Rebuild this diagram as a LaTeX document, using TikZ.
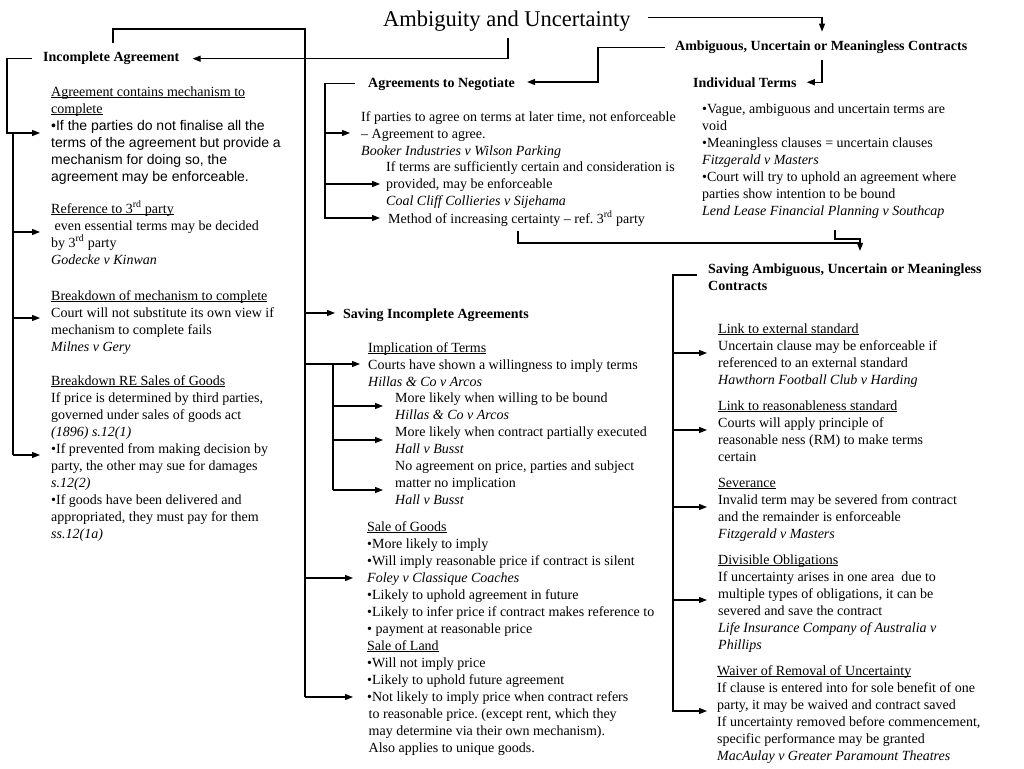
\documentclass[tikz,border=0pt]{standalone}
\usepackage{fontspec}
\setmainfont{Liberation Serif}
\newfontfamily\sanf{Liberation Sans}
\usetikzlibrary{arrows.meta}
\frenchspacing
\newcommand\mytab[1]{\begin{tabular}[t]{@{}l@{}}#1\end{tabular}}
\newcommand\ul[1]{\underline{\smash{#1}}}
\begin{document}
\begin{tikzpicture}[x=1pt,y=-1pt,
 txt/.style={anchor=base west,inner sep=0pt,font=\fontsize{14}{17}\selectfont},
 hd/.style={anchor=base west,inner sep=0pt,font=\fontsize{14}{17}\selectfont\bfseries},
 ln/.style={line width=1.1pt},
 thk/.style={line width=1.8pt},
 arr/.style={line width=1.1pt,-{Triangle[length=8pt,width=6pt]}}]
\fill[white] (0,0) rectangle (1024,768);
\useasboundingbox (0,0) rectangle (1024,768);

% headings
\node[anchor=base west,inner sep=0pt,font=\fontsize{22.5}{27}\selectfont] (t) at (383,27) {Ambiguity and Uncertainty};
\node[hd] (amb) at (675,51) {Ambiguous, Uncertain or Meaningless Contracts};
\node[hd] (ia) at (43,62) {Incomplete Agreement};
\node[hd] (atn) at (368,87) {Agreements to Negotiate};
\node[hd] (it) at (693,87) {Individual Terms};
\node[hd] (sia) at (343,318) {Saving Incomplete Agreements};
\node[hd] (sam) at (708,273) {\mytab{Saving Ambiguous, Uncertain or Meaningless\\Contracts}};

% left column
\node[txt] (L1) at (51,96) {\mytab{\ul{Agreement contains mechanism to}\\
\ul{complete}\\
{\sanf •If the parties do not finalise all the}\\
{\sanf terms of the agreement but provide a}\\
{\sanf mechanism for doing so, the}\\
{\sanf agreement may be enforceable.}}};
\node[txt] (L2) at (51,213) {\mytab{\ul{Reference to 3\textsuperscript{rd} party}\\
\hspace{3.5pt}even essential terms may be decided\\
by 3\textsuperscript{rd} party\\
\textit{Godecke v Kinwan}}};
\node[txt] (L3) at (51,300) {\mytab{\ul{Breakdown of mechanism to complete}\\
Court will not substitute its own view if\\
mechanism to complete fails\\
\textit{Milnes v Gery}}};
\node[txt] (L4) at (51,385) {\mytab{\ul{Breakdown RE Sales of Goods}\\
If price is determined by third parties,\\
governed under sales of goods act\\
\textit{(1896) s.12(1)}\\
•If prevented from making decision by\\
party, the other may sue for damages\\
\textit{s.12(2)}\\
•If goods have been delivered and\\
appropriated, they must pay for them\\
\textit{ss.12(1a)}}};

% agreements to negotiate
\node[txt] (M1) at (361,121) {\mytab{If parties to agree on terms at later time, not enforceable\\
– Agreement to agree.\\
\textit{Booker Industries v Wilson Parking}}};
\node[txt] (M2) at (386,171) {\mytab{If terms are sufficiently certain and consideration is\\
provided, may be enforceable\\
\textit{Coal Cliff Collieries v Sijehama}}};
\node[txt] (M3) at (388,223) {Method of increasing certainty – ref.\ 3\textsuperscript{rd} party};

% individual terms
\node[txt] (IT1) at (702,113) {\mytab{•Vague, ambiguous and uncertain terms are\\
void\\
•Meaningless clauses = uncertain clauses\\
\textit{Fitzgerald v Masters}\\
•Court will try to uphold an agreement where\\
parties show intention to be bound\\
\textit{Lend Lease Financial Planning v Southcap}}};

% saving incomplete agreements
\node[txt] (S1) at (368,352) {\mytab{\ul{Implication of Terms}\\
Courts have shown a willingness to imply terms\\
\textit{Hillas \& Co v Arcos}}};
\node[txt] (S2) at (395,402) {\mytab{More likely when willing to be bound\\
\textit{Hillas \& Co v Arcos}\\
More likely when contract partially executed\\
\textit{Hall v Busst}\\
No agreement on price, parties and subject\\
matter no implication\\
\textit{Hall v Busst}}};
\node[txt] (S3) at (367,531) {\mytab{\ul{Sale of Goods}\\
•More likely to imply\\
•Will imply reasonable price if contract is silent\\
\textit{Foley v Classique Coaches}\\
•Likely to uphold agreement in future\\
•Likely to infer price if contract makes reference to\\
• payment at reasonable price\\
\ul{Sale of Land}\\
•Will not imply price\\
•Likely to uphold future agreement\\
•Not likely to imply price when contract refers\\
\hspace{1.5pt}to reasonable price. (except rent, which they\\
\hspace{1.5pt}may determine via their own mechanism).\\
\hspace{1.5pt}Also applies to unique goods.}};

% saving ambiguous
\node[txt] (R1) at (718,333) {\mytab{\ul{Link to external standard}\\
Uncertain clause may be enforceable if\\
referenced to an external standard\\
\textit{Hawthorn Football Club v Harding}}};
\node[txt] (R2) at (718,410) {\mytab{\ul{Link to reasonableness standard}\\
Courts will apply principle of\\
reasonable ness (RM) to make terms\\
certain}};
\node[txt] (R3) at (718,487) {\mytab{\ul{Severance}\\
Invalid term may be severed from contract\\
and the remainder is enforceable\\
\textit{Fitzgerald v Masters}}};
\node[txt] (R4) at (718,564) {\mytab{\ul{Divisible Obligations}\\
If uncertainty arises in one area\ \ due to\\
multiple types of obligations, it can be\\
severed and save the contract\\
\textit{Life Insurance Company of Australia v}\\
\textit{Phillips}}};
\node[txt] (R5) at (717,675) {\mytab{\ul{Waiver of Removal of Uncertainty}\\
If clause is entered into for sole benefit of one\\
party, it may be waived and contract saved\\
If uncertainty removed before commencement,\\
specific performance may be granted\\
\textit{MacAulay v Greater Paramount Theatres}}};

% ---- connectors ----
% title -> ambiguous contracts
\draw[arr,shorten >=9.5pt] ([xshift=17pt,yshift=4pt]t.east) -| (amb.north -| 822,0);
% title -> incomplete agreement
\draw[arr,shorten >=13pt] (508,38) |- (ia.east);
% ambiguous -> agreements to negotiate
\draw[arr,shorten <=10pt,shorten >=12pt] (amb.west) -| (598,82) -- (atn.east |- 0,82);
% ambiguous -> individual terms
\draw[arr,shorten <=6pt,shorten >=10pt] (amb.south -| 822,0) |- (it.east);

% incomplete agreement -> saving incomplete agreements
\draw[ln] (113,43) |- (305,29) -- (305,313);
\draw[arr,shorten >=8pt] (305,313) -- (sia.west |- 0,313);
\draw[thk] (305,313) -- (305,697);
\draw[arr,shorten >=8pt] (305,364) -- (S1.west |- 0,364);
\draw[thk] (333,364) -- (333,490);
\draw[arr,shorten >=12pt] (333,406) -- (S2.west |- 0,406);
\draw[arr,shorten >=12pt] (333,440) -- (S2.west |- 0,440);
\draw[arr,shorten >=12pt] (333,490) -- (S2.west |- 0,490);
\draw[arr,shorten >=14pt] (305,578) -- (S3.west |- 0,578);
\draw[arr,shorten >=14pt] (305,697) -- (S3.west |- 0,697);

% incomplete agreement left bracket
\draw[arr,shorten <=11pt,shorten >=11pt] (ia.west) -| (7,133) -- (L1.west |- 0,133);
\draw[thk] (13,133) -- (13,455);
\draw[arr,shorten >=11pt] (13,232) -- (L2.west |- 0,232);
\draw[arr,shorten >=11pt] (13,318) -- (L3.west |- 0,318);
\draw[arr,shorten >=11pt] (13,455) -- (L4.west |- 0,455);

% agreements to negotiate bracket
\draw[arr,shorten <=13pt,shorten >=8pt] (atn.west) -| (325,218) -- (M3.west |- 0,218);
\draw[arr,shorten >=11pt] (325,133) -- (M1.west |- 0,133);
\draw[arr,shorten >=6pt] (325,184) -- (M2.west |- 0,184);

% to saving ambiguous
\draw[ln,shorten <=5pt] (M3.south -| 518,0) |- (860,243);
\draw[ln,shorten <=10pt] (IT1.south -| 835,0) |- (860,239);
\draw[arr,shorten >=10pt] (860,238) -- (sam.north -| 860,0);

% saving ambiguous bracket
\draw[arr,shorten <=11pt,shorten >=10pt] (sam.west |- 0,275) -| (673,711) -- (R5.west |- 0,711);
\draw[thk] (673,275) -- (673,711);
\draw[arr,shorten >=11pt] (673,353) -- (R1.west |- 0,353);
\draw[arr,shorten >=11pt] (673,430) -- (R2.west |- 0,430);
\draw[arr,shorten >=11pt] (673,507) -- (R3.west |- 0,507);
\draw[arr,shorten >=11pt] (673,600) -- (R4.west |- 0,600);
\end{tikzpicture}
\end{document}
